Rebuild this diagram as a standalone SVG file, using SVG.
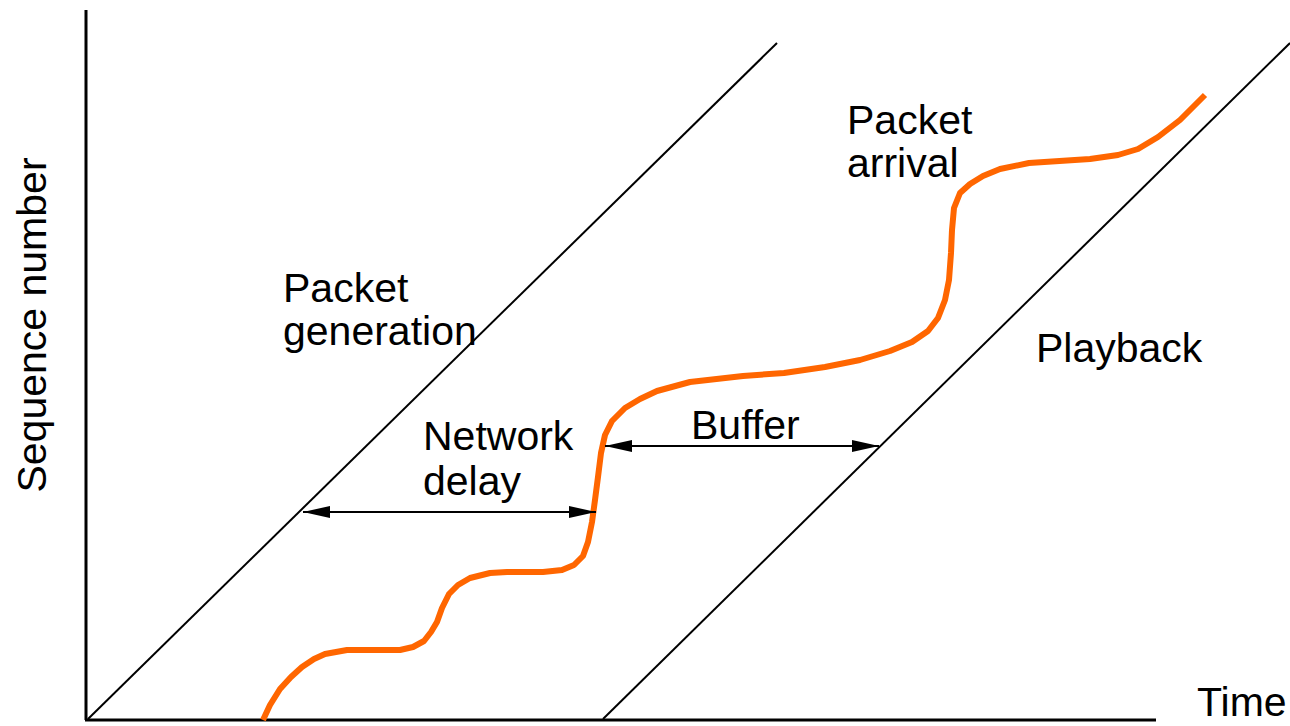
<svg xmlns="http://www.w3.org/2000/svg" width="1290" height="726" viewBox="0 0 1290 726">
<style>
.t{font-family:"Liberation Sans",Arial,sans-serif;font-size:41px;fill:#000}
.ax{stroke:#000;stroke-width:3;fill:none}
.ln{stroke:#000;stroke-width:2;fill:none}
.dim{stroke:#000;stroke-width:2;fill:none;marker-start:url(#ah);marker-end:url(#ah)}
.curve{stroke:#FF6600;stroke-width:6;fill:none;stroke-linejoin:round}
</style>
<defs>
<marker id="ah" viewBox="0 0 27 12" refX="27" refY="6" markerWidth="27" markerHeight="12" markerUnits="userSpaceOnUse" orient="auto-start-reverse">
<path d="M0,0 L27,6 L0,12 Z" fill="#000"/>
</marker>
</defs>
<rect width="1290" height="726" fill="#fff"/>
<g id="axes">
<line class="ax" x1="86" y1="10" x2="86" y2="720"/>
<line class="ax" x1="85" y1="720" x2="1156" y2="720"/>
<text class="t" transform="translate(46,325) rotate(-90)" text-anchor="middle">Sequence number</text>
<text class="t" x="1197" y="716">Time</text>
</g>
<g id="generation">
<line class="ln" x1="88" y1="719" x2="777" y2="43"/>
<text class="t" x="283" y="302">Packet</text>
<text class="t" x="283" y="345">generation</text>
</g>
<g id="playback">
<line class="ln" x1="603" y1="719" x2="1290" y2="43"/>
<text class="t" x="1036" y="362">Playback</text>
</g>
<g id="arrival">
<path class="curve" d="M263,720 L270,705 L280,689 L291,677 L302,667 L314,659 L325,654 L347,650 L400,650 L413,647 L424,641 L431,632 L437,622 L442,608 L449,594 L458,585 L470,578 L490,573 L507,572 L543,572 L562,570 L574,565 L583,556 L588,542 L592,522 L595,500 L598,477 L601,453 L605,435 L612,421 L625,408 L640,399 L657,391 L690,382 L743,376 L784,373 L825,367 L860,360 L890,351 L912,342 L928,331 L938,318 L945,300 L949,280 L951,253 L952,230 L954,208 L960,193 L970,184 L983,176 L1000,169 L1029,163 L1090,159 L1118,155 L1138,149 L1158,137 L1180,120 L1205,95"/>
<text class="t" x="847" y="134">Packet</text>
<text class="t" x="847" y="177">arrival</text>
</g>
<g id="connectors">
<line class="dim" x1="303" y1="512" x2="596" y2="512"/>
<line class="dim" x1="605" y1="446" x2="879" y2="446"/>
</g>
<g id="labels">
<text class="t" x="423" y="450">Network</text>
<text class="t" x="423" y="495">delay</text>
<text class="t" x="691" y="439">Buffer</text>
</g>
</svg>
